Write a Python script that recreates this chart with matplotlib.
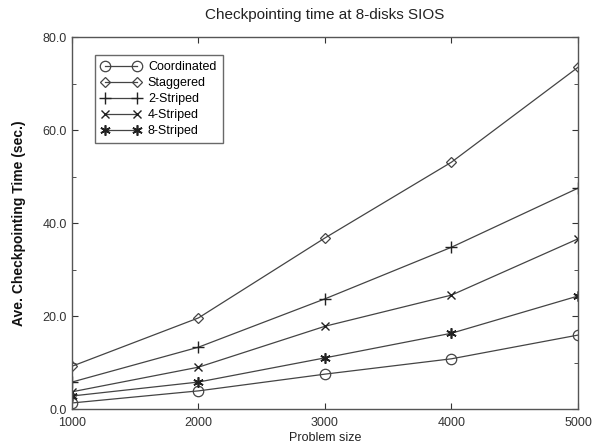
import matplotlib
matplotlib.use("Agg")
import matplotlib.pyplot as plt
from matplotlib.ticker import MultipleLocator

problem_size = [1000, 2000, 3000, 4000, 5000]
coordinated = [1.3, 3.9, 7.5, 10.8, 15.9]
staggered = [9.2, 19.6, 36.8, 53.1, 73.5]
striped2 = [5.8, 13.3, 23.7, 34.8, 47.5]
striped4 = [3.7, 9.0, 17.8, 24.5, 36.6]
striped8 = [2.8, 5.8, 11.0, 16.3, 24.3]

plt.rcParams['font.family'] = ['Liberation Sans', 'DejaVu Sans']

fig = plt.figure(figsize=(6.03, 4.47), dpi=100)
ax = fig.add_axes([0.1194, 0.085, 0.8391, 0.832])

lc = '#444444'
ax.plot(problem_size, coordinated, color=lc, lw=0.9, marker='o', ms=7.5, mfc='none', mec=lc, mew=0.9, label='Coordinated')
ax.plot(problem_size, staggered, color=lc, lw=0.9, marker='D', ms=5.5, mfc='none', mec=lc, mew=0.9, label='Staggered')
ax.plot(problem_size, striped2, color=lc, lw=0.9, marker='+', ms=9, mec='#222222', mew=1.0, label='2-Striped')
ax.plot(problem_size, striped4, color=lc, lw=0.9, marker='x', ms=5.5, mec='#222222', mew=1.0, label='4-Striped')
ax.plot(problem_size, striped8, color=lc, lw=0.9, marker=(6, 2, 0), ms=7.5, mec='#222222', mew=1.2, label='8-Striped')

ax.set_xlim(1000, 5000)
ax.set_ylim(0, 80)
ax.set_xticks(problem_size)
ax.set_yticks([0, 20, 40, 60, 80])
ax.set_yticklabels(['0.0', '20.0', '40.0', '60.0', '80.0'])
ax.yaxis.set_minor_locator(MultipleLocator(10))
ax.tick_params(which='both', direction='in', top=True, right=True, labelsize=9, colors='#333333', length=4)
ax.tick_params(which='minor', length=3)
ax.tick_params(axis='x', pad=6)
for s in ax.spines.values():
    s.set_color('#555555')
    s.set_linewidth(1.0)

ax.set_title('Checkpointing time at 8-disks SIOS', fontsize=11, color='#222222', pad=13)
ax.set_xlabel('Problem size', fontsize=9, color='#222222', labelpad=2)
ax.set_ylabel('Ave. Checkpointing Time (sec.)', fontsize=10, color='#111111', labelpad=12, fontweight='bold')

leg = ax.legend(loc='upper left', bbox_to_anchor=(0.045, 0.952), borderaxespad=0, numpoints=2,
                fontsize=9, frameon=True, fancybox=False,
                edgecolor='#444444', handlelength=3.2, borderpad=0.5, labelspacing=0.32, handletextpad=0.55)
leg.get_frame().set_linewidth(1.0)

fig.savefig('out.png', dpi=100)
